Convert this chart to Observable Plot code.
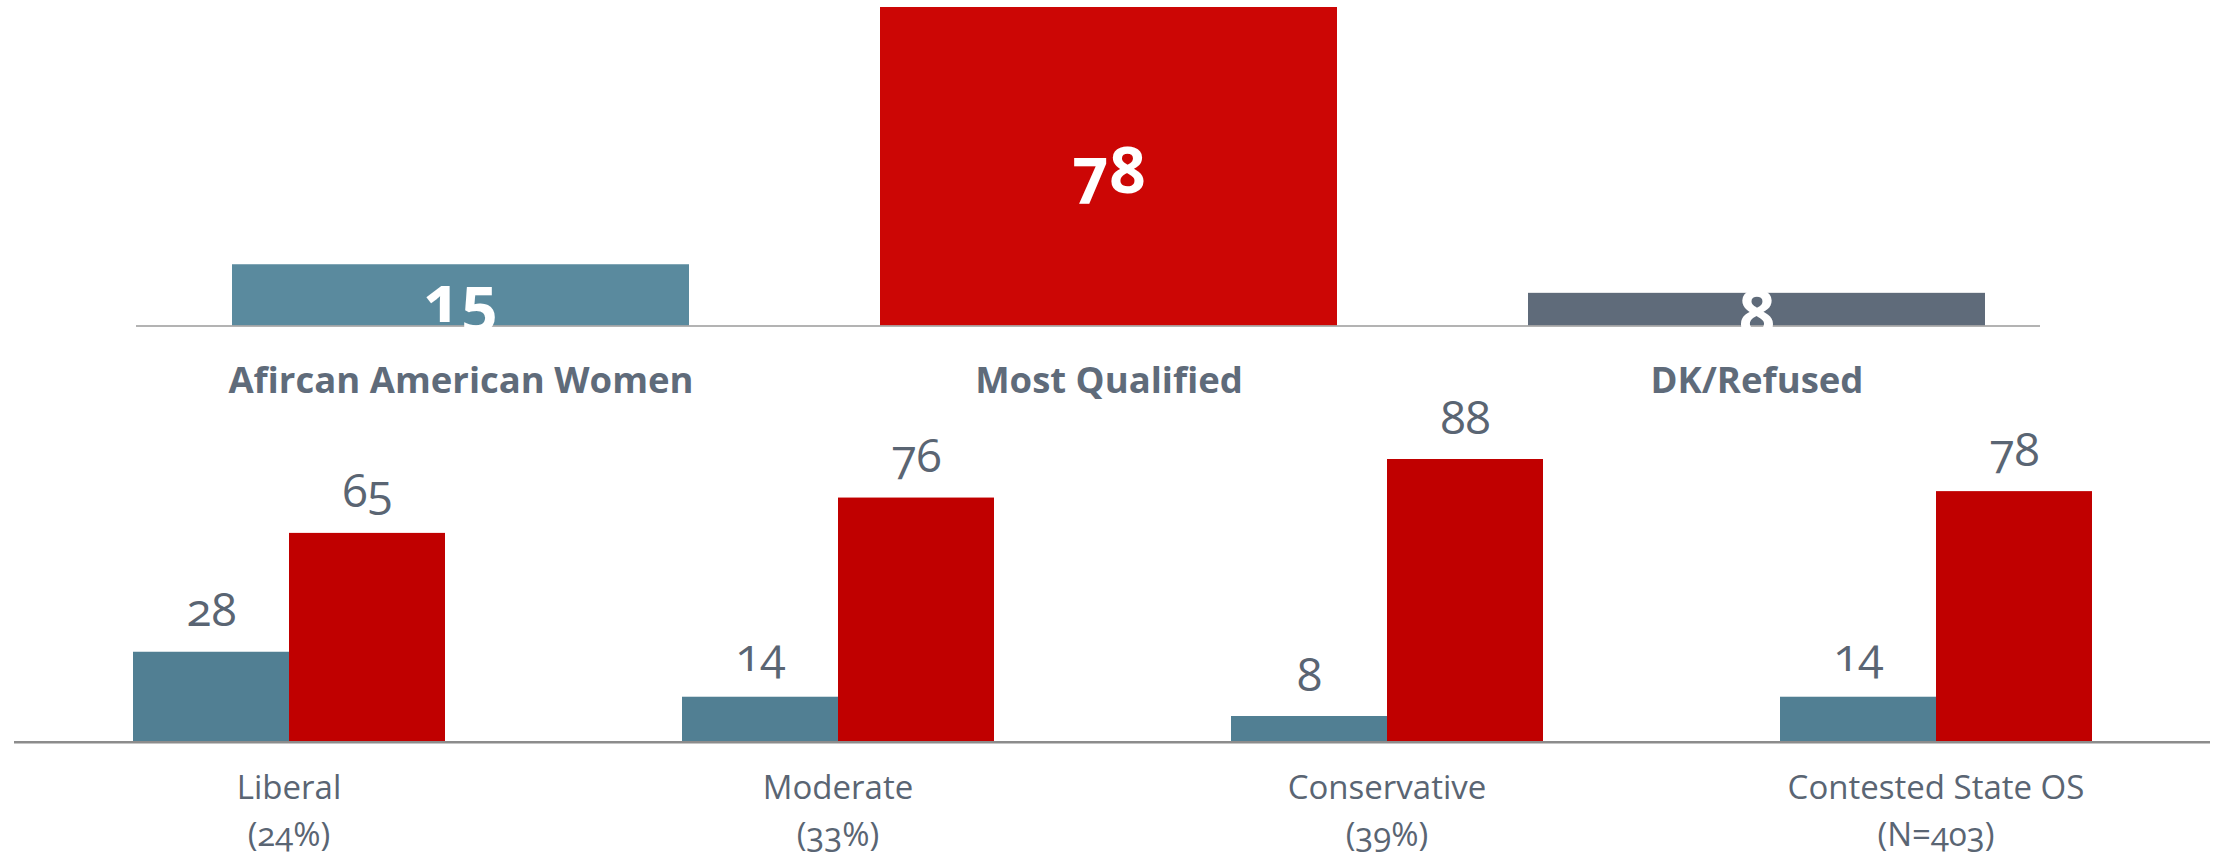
<!DOCTYPE html>
<html>
<head>
<meta charset="utf-8">
<script src="https://cdn.jsdelivr.net/npm/d3@7"></script>
<script src="https://cdn.jsdelivr.net/npm/@observablehq/plot@0.6"></script>
<style>
  html, body { margin: 0; padding: 0; background: #ffffff; }
  #top, #bottom { display: block; }
  svg { display: block; }
</style>
</head>
<body>
<div id="top"></div>
<div id="bottom"></div>
<script>
// ---- Data ----
const topCategories = ["Afircan American Women", "Most Qualified", "DK/Refused"];
const topValues = [15, 78, 8];

const groups = ["Liberal", "Moderate", "Conservative", "Contested State OS"];
const groupNotes = ["(24%)", "(33%)", "(39%)", "(N=403)"];
const seriesNames = ["Afircan American Women", "Most Qualified"];
const aaWomenValues = [28, 14, 8, 14];
const mostQualifiedValues = [65, 76, 88, 78];

// ---- Tables built from the arrays ----
const topRows = topCategories.map((c, i) => ({category: c, value: topValues[i]}));
const rows = groups.flatMap((g, i) => [
  {group: g, series: seriesNames[0], value: aaWomenValues[i]},
  {group: g, series: seriesNames[1], value: mostQualifiedValues[i]}
]);

const font = "'Open Sans', 'Noto Sans', sans-serif";

// ---- Top chart ----
const topPlot = Plot.plot({
  width: 2219,
  height: 400,
  marginTop: 7,
  marginBottom: 74.5,
  marginLeft: 136,
  marginRight: 179,
  style: {fontFamily: font, color: "#5f6b7a", overflow: "visible", fontVariantNumeric: "oldstyle-nums", background: "transparent"},
  x: {domain: topCategories, range: [231, 1985], paddingInner: 0.295, paddingOuter: 0},
  y: {domain: [0, d3.max(topValues)], axis: null},
  color: {domain: topCategories, range: ["#5a8a9e", "#cc0605", "#5f6b7a"]},
  marks: [
    Plot.barY(topRows, {x: "category", y: "value", fill: "category"}),
    Plot.ruleY([0], {stroke: "#9a9a9a", strokeWidth: 1.5}),
    Plot.text(topRows, {x: "category", y: d => d.value / 2, text: d => String(d.value), fill: "white", fontWeight: "bold", fontSize: 64, dy: 6}),
    Plot.axisX({tickSize: 0, tickPadding: 41, fontSize: 36.5, fontWeight: "bold", label: null})
  ]
});
document.getElementById("top").append(topPlot);

// ---- Bottom chart ----
const bottomPlot = Plot.plot({
  width: 2219,
  height: 456,
  marginTop: 59,
  marginBottom: 114.3,
  marginLeft: 12,
  marginRight: 8,
  style: {fontFamily: font, color: "#5a6573", overflow: "visible", fontVariantNumeric: "oldstyle-nums", background: "transparent"},
  facet: {data: rows, x: "group"},
  fx: {domain: groups, padding: 0},
  x: {domain: seriesNames, paddingInner: 0, paddingOuter: 0.75, axis: null},
  y: {domain: [0, d3.max([...aaWomenValues, ...mostQualifiedValues])], axis: null},
  color: {domain: seriesNames, range: ["#517f93", "#c00000"]},
  marks: [
    Plot.barY(rows, {x: "series", y: "value", fill: "series"}),
    Plot.ruleY([0], {stroke: "#8c8c8c", strokeWidth: 2.5}),
    Plot.text(rows, {x: "series", y: "value", text: d => String(d.value), lineAnchor: "bottom", dy: -26, fontSize: 46}),
    Plot.axisFx({anchor: "bottom", tickSize: 0, tickPadding: 24, fontSize: 33, lineHeight: 1.42, label: null,
      tickFormat: g => g + "\n" + groupNotes[groups.indexOf(g)]})
  ]
});
document.getElementById("bottom").append(bottomPlot);
</script>
</body>
</html>
